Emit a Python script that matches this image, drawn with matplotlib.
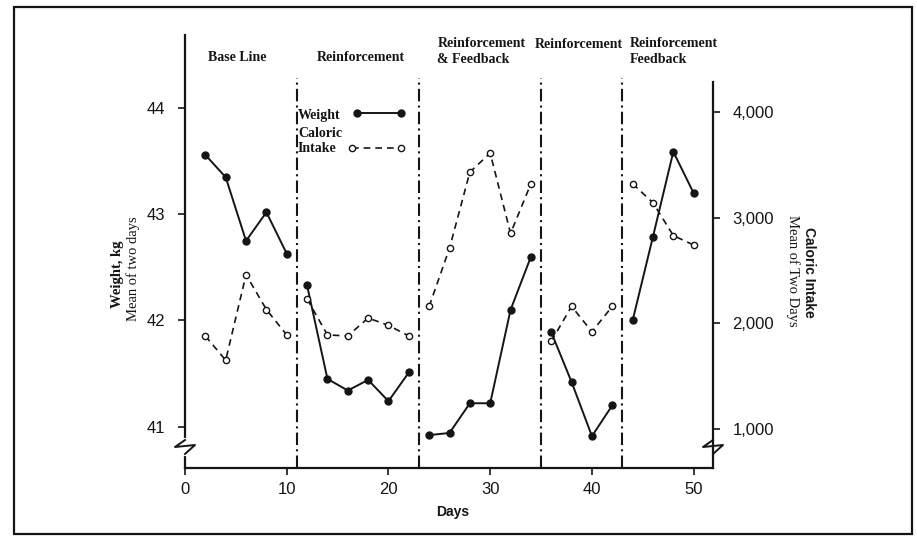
import matplotlib
matplotlib.use("Agg")
import matplotlib.pyplot as plt
from matplotlib.patches import Rectangle
from matplotlib.lines import Line2D


# phases of the study (days are the mean of two days)
phase_names = ["Base Line", "Reinforcement", "Reinforcement\n& Feedback",
               "Reinforcement", "Reinforcement\nFeedback"]
phase_label_x = [2.3, 13.0, 24.8, 34.4, 43.7]
phase_bounds = [11, 23, 35, 43]

days = [[2, 4, 6, 8, 10],
        [12, 14, 16, 18, 20, 22],
        [24, 26, 28, 30, 32, 34],
        [36, 38, 40, 42],
        [44, 46, 48, 50]]

weight = [[43.56, 43.35, 42.75, 43.02, 42.63],
          [42.33, 41.45, 41.34, 41.44, 41.24, 41.51],
          [40.92, 40.94, 41.22, 41.22, 42.10, 42.60],
          [41.89, 41.42, 40.91, 41.20],
          [42.00, 42.79, 43.59, 43.20]]

calories = [[1880, 1650, 2460, 2130, 1890],
            [2230, 1890, 1880, 2050, 1980, 1880],
            [2160, 2710, 3430, 3610, 2850, 3320],
            [1830, 2160, 1920, 2160],
            [3320, 3140, 2830, 2740]]

x_ticks = [0, 10, 20, 30, 40, 50]
weight_ticks = [41, 42, 43, 44]
cal_ticks = [1000, 2000, 3000, 4000]
cal_tick_labels = ["1,000", "2,000", "3,000", "4,000"]

ink = "#151515"
serif = "Liberation Serif"
sans = "Liberation Sans"

fig = plt.figure(figsize=(9.17, 5.36), dpi=100)
ax = fig.add_axes([185 / 917, 68 / 536, 528 / 917, 433 / 536])
ax2 = ax.twinx()

for d, w in zip(days, weight):
    ax.plot(d, w, color=ink, lw=1.4, marker="o", ms=5, mfc=ink, mec=ink, zorder=4)
for d, c in zip(days, calories):
    ax2.plot(d, c, color=ink, lw=1.2, ls=(0, (4, 3)), marker="o", ms=4.5,
             mfc="white", mec=ink, mew=1.0, zorder=3)

for b in phase_bounds:
    ax.axvline(b, ymin=0, ymax=0.90, color=ink, lw=1.5, ls=(0, (6, 2, 1, 2)))

ax.set_xlim(0, 51.9)
ax.set_ylim(40.61, 44.69)
ax2.set_ylim(631, 4727)

ax.set_xticks(x_ticks)
ax.set_yticks(weight_ticks)
ax2.set_yticks(cal_ticks)
ax2.set_yticklabels(cal_tick_labels)

for a in (ax, ax2):
    a.tick_params(length=5, width=1.2, color=ink, labelcolor=ink, labelsize=12)
    for lab in a.get_xticklabels() + a.get_yticklabels():
        lab.set_fontfamily(sans)
ax.tick_params(axis="y", pad=9)
ax.tick_params(axis="x", pad=5)
ax2.tick_params(axis="y", pad=9)

ax.spines["top"].set_visible(False)
ax.spines["right"].set_visible(False)
ax.spines["left"].set_linewidth(1.6)
ax.spines["bottom"].set_linewidth(1.6)
ax.spines["left"].set_color(ink)
ax.spines["bottom"].set_color(ink)
for s in ("top", "left", "bottom"):
    ax2.spines[s].set_visible(False)
ax2.spines["right"].set_linewidth(1.6)
ax2.spines["right"].set_color(ink)
ax2.spines["right"].set_bounds(631, 4283)

# axis break marks
for xa in (0.0, 1.0):
    yb = 20 / 433
    ax.plot([xa, xa], [yb - 6 / 433, yb + 8 / 433], transform=ax.transAxes,
            color="white", lw=3, clip_on=False, zorder=6)
    zx = [xa, xa - 10 / 528, xa + 10 / 528, xa]
    zy = [yb + 8 / 433, yb + 1 / 433, yb + 3 / 433, yb - 6 / 433]
    ax.plot(zx, zy, transform=ax.transAxes, color=ink, lw=1.4,
            clip_on=False, zorder=7)

# phase headings
for name, px in zip(phase_names, phase_label_x):
    ypos = 0.947 if "\n" not in name and px < 20 else 0.962
    if "\n" not in name and px > 20:
        ypos = 0.979
    ax.text(px, ypos, name, transform=ax.get_xaxis_transform(), ha="left",
            va="center", fontfamily=serif, fontweight="bold", fontsize=10,
            color=ink, linespacing=1.25)

# legend drawn by hand like the original
ax.text(0.214, 0.815, "Weight", transform=ax.transAxes, fontfamily=serif,
        fontweight="bold", fontsize=10, color=ink, va="center")
ax.text(0.214, 0.739, "Caloric\nIntake", transform=ax.transAxes, fontfamily=serif,
        fontweight="bold", fontsize=10, color=ink, va="bottom",
        linespacing=1.25).set_y(0.722)
ax.add_line(Line2D([0.326, 0.409], [0.820, 0.820], transform=ax.transAxes,
                   color=ink, lw=1.4, marker="o", ms=5, mfc=ink, mec=ink))
ax.add_line(Line2D([0.316, 0.409], [0.739, 0.739], transform=ax.transAxes,
                   color=ink, lw=1.2, ls=(0, (4, 3)), marker="o", ms=4.5,
                   mfc="white", mec=ink))

# axis titles
fig.text(453 / 917, 1 - 512 / 536, "Days", ha="center", va="center",
         fontfamily=sans, fontweight="bold", fontsize=10, color=ink)
fig.text(117 / 917, 1 - 274 / 536, "Weight, kg", rotation=90, ha="center",
         va="center", fontfamily=serif, fontweight="bold", fontsize=10.5, color=ink)
fig.text(133 / 917, 1 - 269 / 536, "Mean of two days", rotation=90, ha="center",
         va="center", fontfamily=serif, fontsize=10.5, color=ink)
fig.text(809 / 917, 1 - 272 / 536, "Caloric Intake", rotation=270, ha="center",
         va="center", fontfamily=sans, fontweight="bold", fontsize=10, color=ink)
fig.text(793 / 917, 1 - 271 / 536, "Mean of Two Days", rotation=270, ha="center",
         va="center", fontfamily=serif, fontsize=10.5, color=ink)

# frame around the figure
fig.patches.append(Rectangle((14 / 917, 2 / 536), 898 / 917, 527 / 536,
                             transform=fig.transFigure, fill=False,
                             edgecolor=ink, lw=1.6))

fig.savefig("out.png", dpi=100)
